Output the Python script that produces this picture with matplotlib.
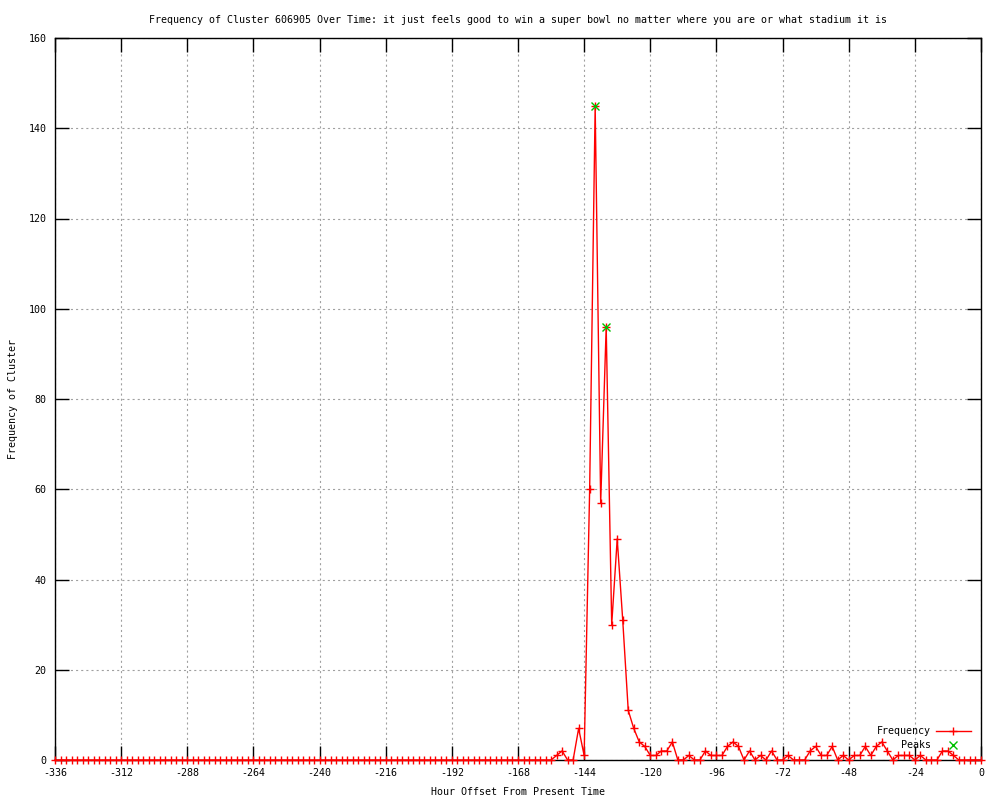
import matplotlib
matplotlib.use("Agg")
import matplotlib.pyplot as plt

plt.rcParams['font.family'] = ['DejaVu Sans Mono']
plt.rcParams['lines.scale_dashes'] = False
plt.rcParams['axes.unicode_minus'] = False

title = ("Frequency of Cluster 606905 Over Time: it just feels good to win a super bowl "
         "no matter where you are or what stadium it is")
x_label = "Hour Offset From Present Time"
y_label = "Frequency of Cluster"

hours = list(range(-336, 1, 2))
frequency = [
    # -336 .. -158
    0, 0, 0, 0, 0, 0, 0, 0, 0, 0,
    0, 0, 0, 0, 0, 0, 0, 0, 0, 0,
    0, 0, 0, 0, 0, 0, 0, 0, 0, 0,
    0, 0, 0, 0, 0, 0, 0, 0, 0, 0,
    0, 0, 0, 0, 0, 0, 0, 0, 0, 0,
    0, 0, 0, 0, 0, 0, 0, 0, 0, 0,
    0, 0, 0, 0, 0, 0, 0, 0, 0, 0,
    0, 0, 0, 0, 0, 0, 0, 0, 0, 0,
    0, 0, 0, 0, 0, 0, 0, 0, 0, 0,
    # -156 .. 0
    0, 1, 2, 0, 0, 7, 1, 60, 145, 57,
    96, 30, 49, 31, 11, 7, 4, 3, 1, 1,
    2, 2, 4, 0, 0, 1, 0, 0, 2, 1,
    1, 1, 3, 4, 3, 0, 2, 0, 1, 0,
    2, 0, 0, 1, 0, 0, 0, 2, 3, 1,
    1, 3, 0, 1, 0, 1, 1, 3, 1, 3,
    4, 2, 0, 1, 1, 1, 0, 1, 0, 0,
    0, 2, 2, 1, 0, 0, 0, 0, 0,
]
peak_hours = [-140, -136]
peak_values = [145, 96]

x_ticks = list(range(-336, 1, 24))
y_ticks = list(range(0, 161, 20))

fig = plt.figure(figsize=(10, 8), dpi=100)
ax = fig.add_axes([0.055, 0.05, 0.926, 0.9025])

ax.plot(hours, frequency, color='#ff0000', lw=1.0, marker='+', markersize=5.5,
        markeredgewidth=1.0, label='Frequency', clip_on=False, zorder=4)
ax.plot(peak_hours, peak_values, linestyle='none', color='#00c000', marker='x',
        markersize=6, markeredgewidth=1.0, label='Peaks', clip_on=False, zorder=5)

ax.set_xlim(-336, 0)
ax.set_ylim(0, 160)
ax.set_xticks(x_ticks)
ax.set_yticks(y_ticks)
ax.tick_params(direction='in', length=10, width=1, top=True, right=True,
               labelsize=7.2, pad=6, colors='black')
ax.grid(True, color='#a0a0a0', linestyle=(0, (1.5, 2.2)), linewidth=0.8)
for s in ax.spines.values():
    s.set_linewidth(1.0)
    s.set_color('black')

ax.set_title(title, fontsize=7.2, pad=11)
ax.set_xlabel(x_label, fontsize=7.2, labelpad=6)
ax.set_ylabel(y_label, fontsize=7.2, labelpad=8)

leg = ax.legend(loc='lower right', frameon=False, markerfirst=False, fontsize=7.2,
                handlelength=3.5, numpoints=1, borderaxespad=0.6, labelspacing=0.35,
                handletextpad=0.5, bbox_to_anchor=(0.9995, 0.0))

fig.savefig('out.png', dpi=100)
